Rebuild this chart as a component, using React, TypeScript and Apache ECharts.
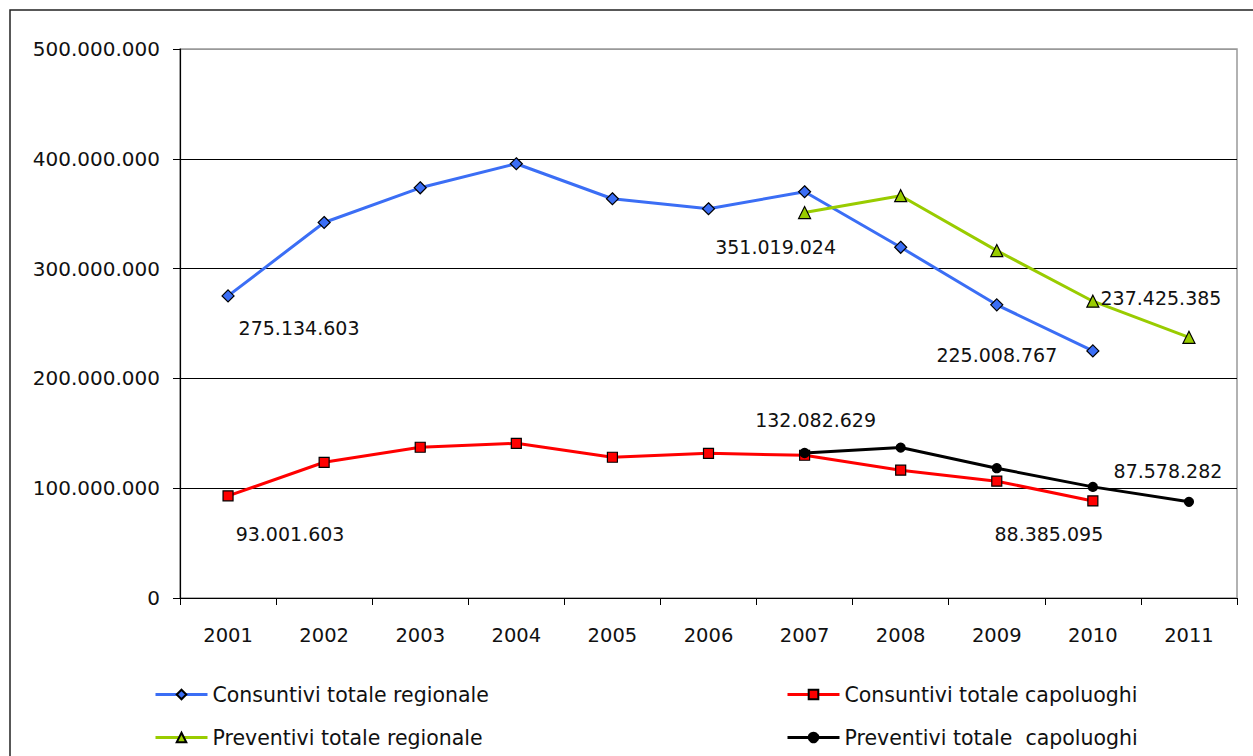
import React, { useEffect, useRef } from "react";
import * as echarts from "echarts";

const years = ["2001", "2002", "2003", "2004", "2005", "2006", "2007", "2008", "2009", "2010", "2011"];
const consRegionale = [275134603, 342000000, 373600000, 395500000, 363600000, 354500000, 370000000, 319400000, 267000000, 225008767, null];
const consCapoluoghi = [93001603, 123600000, 137300000, 140900000, 128200000, 131800000, 130000000, 116400000, 106400000, 88385095, null];
const prevRegionale = [null, null, null, null, null, null, 351019024, 366400000, 316400000, 270300000, 237425385];
const prevCapoluoghi = [null, null, null, null, null, null, 132082629, 137000000, 118200000, 101200000, 87578282];
const yTicks = [0, 100000000, 200000000, 300000000, 400000000, 500000000];
const seriesNames = [
  "Consuntivi totale regionale",
  "Consuntivi totale capoluoghi",
  "Preventivi totale regionale",
  "Preventivi totale  capoluoghi",
];

// which points carry a value label, and where the label sits relative to the point
const labelOffsets: Record<string, Record<number, [number, number]>> = {
  consRegionale: { 0: [71, 32], 9: [-96, 4] },
  consCapoluoghi: { 0: [62, 38], 9: [-44, 33] },
  prevRegionale: { 6: [-29, 34], 10: [-28, -39] },
  prevCapoluoghi: { 6: [11, -33], 10: [-21, -31] },
};

const FONT = "DejaVu Sans";
const fmt = (v: number) => String(Math.round(v)).replace(/\B(?=(\d{3})+(?!\d))/g, ".");

function buildData(key: string, values: (number | null)[]) {
  const offs = labelOffsets[key] || {};
  return values.map((v, i) => {
    if (v === null) return "-";
    const o = offs[i];
    if (!o) return v;
    return {
      value: v,
      label: {
        show: true,
        position: "inside",
        offset: o,
        formatter: () => fmt(v),
        fontFamily: FONT,
        fontSize: 19,
        color: "#111",
      },
    };
  });
}

export default function App() {
  const ref = useRef<HTMLDivElement>(null);
  useEffect(() => {
    if (!ref.current) return;
    const chart = echarts.init(ref.current, undefined, { renderer: "svg" });
    const mk = (name: string, key: string, values: (number | null)[], color: string, symbol: string, size: number, border: string) => ({
      name,
      type: "line",
      data: buildData(key, values),
      symbol,
      symbolSize: size,
      showAllSymbol: true,
      lineStyle: { color, width: 3 },
      itemStyle: { color, borderColor: border, borderWidth: 1.2 },
      label: { show: false },
      z: 3,
    });
    const legendAt = (name: string, left: number, top: number) => ({
      orient: "horizontal",
      left,
      top,
      padding: 0,
      itemWidth: 52,
      itemHeight: 12,
      data: [name],
      lineStyle: { width: 3 },
      textStyle: { fontFamily: FONT, fontSize: 20.5, color: "#111", lineHeight: 20 },
    });
    chart.setOption({
      animation: false,
      backgroundColor: "#fff",
      textStyle: { fontFamily: FONT },
      graphic: [
        {
          type: "rect",
          shape: { x: 10, y: 10, width: 1300, height: 800 },
          style: { fill: "none", stroke: "#222", lineWidth: 1.5 },
          silent: true,
          z: -1,
        },
      ],
      grid: {
        left: 180,
        top: 49,
        right: 16,
        bottom: 158,
        show: true,
        borderColor: "#999",
        borderWidth: 1.5,
      },
      xAxis: {
        type: "category",
        data: years,
        boundaryGap: true,
        axisLine: { lineStyle: { color: "#000", width: 1.2 } },
        axisTick: { show: true, length: 7, alignWithLabel: false, lineStyle: { color: "#000" } },
        axisLabel: { color: "#111", fontFamily: FONT, fontSize: 19.5, margin: 27 },
        splitLine: { show: false },
      },
      yAxis: {
        type: "value",
        min: yTicks[0],
        max: yTicks[yTicks.length - 1],
        interval: yTicks[1] - yTicks[0],
        axisLine: { show: true, lineStyle: { color: "#000", width: 1.2 } },
        axisTick: { show: true, length: 7, lineStyle: { color: "#000" } },
        axisLabel: {
          color: "#111",
          fontFamily: FONT,
          fontSize: 20,
          margin: 20,
          formatter: (v: number) => fmt(v),
        },
        splitLine: {
          show: true,
          lineStyle: { color: ["#000", "#000", "#000", "#000", "#000", "#999"], width: 1 },
        },
      },
      legend: [
        legendAt(seriesNames[0], 154, 684),
        legendAt(seriesNames[2], 154, 727),
        legendAt(seriesNames[1], 786, 684),
        legendAt(seriesNames[3], 786, 727),
      ],
      series: [
        mk(seriesNames[0], "consRegionale", consRegionale, "#3b6ef5", "diamond", 12, "#000"),
        mk(seriesNames[1], "consCapoluoghi", consCapoluoghi, "#ff0000", "rect", 10, "#000"),
        mk(seriesNames[2], "prevRegionale", prevRegionale, "#99cc00", "triangle", 12, "#000"),
        mk(seriesNames[3], "prevCapoluoghi", prevCapoluoghi, "#000000", "circle", 9, "#000"),
      ],
    });
    return () => chart.dispose();
  }, []);
  return (
    <div
      ref={ref}
      style={{ position: "fixed", left: 0, top: 0, width: 1253, height: 756, background: "#fff" }}
    />
  );
}
